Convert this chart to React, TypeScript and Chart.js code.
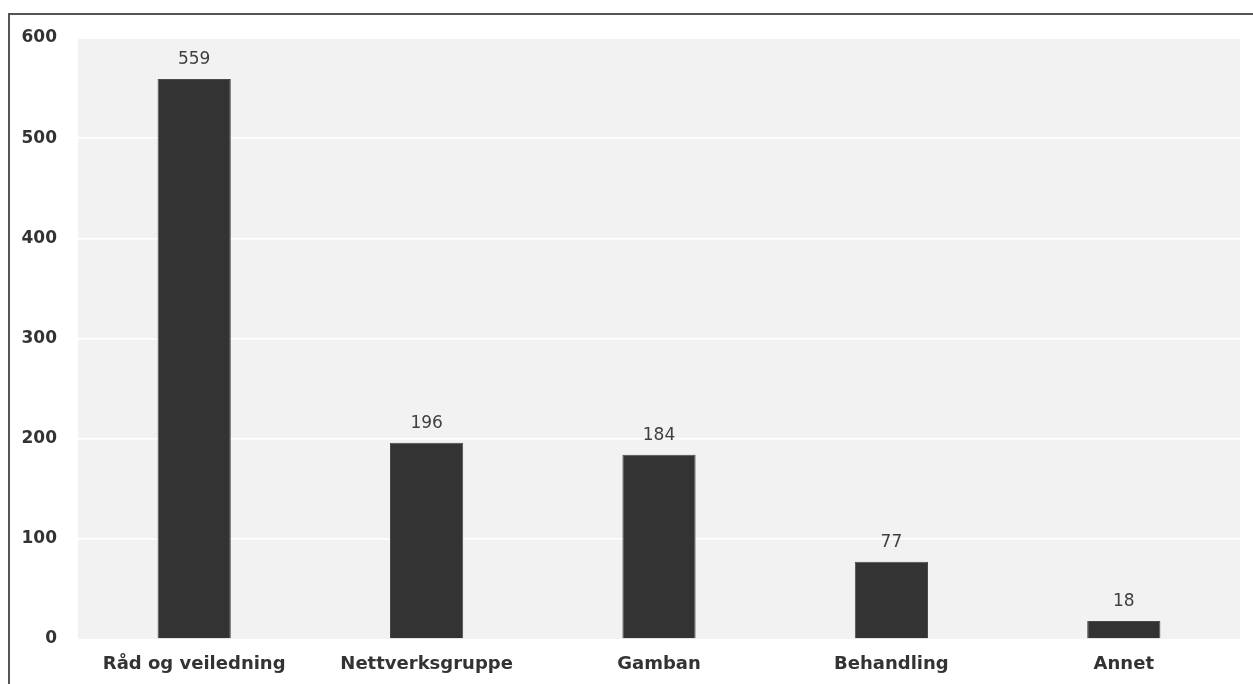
import React, { useEffect, useRef } from "react";
import { Chart, registerables } from "chart.js";

Chart.register(...registerables);

const categories = ["Råd og veiledning", "Nettverksgruppe", "Gamban", "Behandling", "Annet"];
const values = [559, 196, 184, 77, 18];
const yTicks = [0, 100, 200, 300, 400, 500, 600];

const FONT = "'DejaVu Sans', sans-serif";

const framePlugin = {
  id: "frame",
  beforeDraw(chart: any) {
    const { ctx, chartArea } = chart;
    ctx.save();
    ctx.fillStyle = "#f2f2f2";
    ctx.fillRect(chartArea.left, chartArea.top + 1, chartArea.right - chartArea.left, chartArea.bottom - chartArea.top - 1);
    ctx.restore();
  },
  afterDraw(chart: any) {
    const { ctx, width, height } = chart;
    ctx.save();
    ctx.strokeStyle = "#555555";
    ctx.lineWidth = 2;
    ctx.beginPath();
    ctx.moveTo(9, height + 5);
    ctx.lineTo(9, 14);
    ctx.lineTo(width + 5, 14);
    ctx.stroke();
    ctx.restore();
  },
};

const labelPlugin = {
  id: "valueLabels",
  afterDatasetsDraw(chart: any) {
    const { ctx } = chart;
    const meta = chart.getDatasetMeta(0);
    ctx.save();
    ctx.fillStyle = "#404040";
    ctx.font = `400 17px ${FONT}`;
    ctx.textAlign = "center";
    ctx.textBaseline = "middle";
    meta.data.forEach((bar: any, i: number) => {
      ctx.fillText(String(values[i]), bar.x, bar.y - 19);
    });
    ctx.restore();
  },
};

export default function App() {
  const ref = useRef<HTMLCanvasElement>(null);
  useEffect(() => {
    if (!ref.current) return;
    const chart = new Chart(ref.current, {
      type: "bar",
      data: {
        labels: categories,
        datasets: [
          {
            data: values,
            backgroundColor: "#333333",
            borderColor: "#4a4a4a",
            borderWidth: 1,
            barPercentage: 0.315,
            categoryPercentage: 1,
          },
        ],
      },
      options: {
        responsive: false,
        animation: false,
        layout: { padding: { top: 38, right: 13, left: 0, bottom: 0 } },
        plugins: { legend: { display: false }, tooltip: { enabled: false } },
        scales: {
          x: {
            grid: { display: false, drawTicks: false },
            border: { display: false },
            ticks: {
              color: "#333333",
              font: { family: FONT, size: 18, weight: "bold" },
              padding: 15,
              maxRotation: 0,
            },
            afterFit(scale: any) {
              scale.height = 45;
            },
          },
          y: {
            min: 0,
            max: 600,
            afterBuildTicks(scale: any) {
              scale.ticks = yTicks.map((v) => ({ value: v }));
            },
            grid: {
              drawTicks: false,
              color: (c: any) => (c.tick && (c.tick.value === 0 || c.tick.value === 600) ? "rgba(0,0,0,0)" : "#ffffff"),
              lineWidth: 1.5,
            },
            border: { display: false },
            ticks: {
              color: "#333333",
              font: { family: FONT, size: 17, weight: "bold" },
              padding: 21,
            },
            afterFit(scale: any) {
              scale.width = 78;
            },
          },
        },
      },
      plugins: [framePlugin, labelPlugin],
    });
    return () => chart.destroy();
  }, []);
  return (
    <canvas
      ref={ref}
      width={1253}
      height={684}
      style={{ position: "fixed", left: 0, top: 0, width: 1253, height: 684, background: "#ffffff" }}
    />
  );
}
